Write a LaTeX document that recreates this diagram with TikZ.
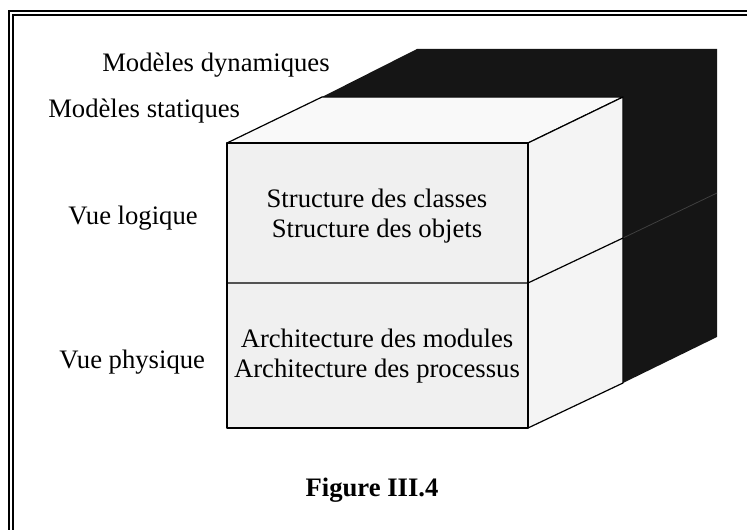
\documentclass[tikz,border=0pt]{standalone}
\usepackage{fontspec}
\setmainfont{Liberation Serif}

\definecolor{darkface}{HTML}{151515}
\tikzset{
  face/.style={draw=black, line width=0.9pt, line join=round},
  lbl/.style={inner sep=0pt, font=\fontsize{20}{23}\selectfont},
}

\begin{document}
\begin{tikzpicture}[x=0.75pt, y=-0.75pt]
            \useasboundingbox (0,0) rectangle (747,530);
            \clip (0,0) rectangle (747,530);
            \draw[double, line width=0.9pt, double distance=2pt] (11,13) rectangle (780,570);

            \fill[darkface] (322,97) -- (417,49) -- (717,49) -- (717,337) -- (623,383) -- (623,97) -- cycle;
            \draw[gray!40!darkface, line width=0.6pt] (623,238) -- (717,193);

            \filldraw[face, fill=gray!5] (227,143) -- (322,97) -- (623,97) -- (528,143) -- cycle;
            \filldraw[face, fill=gray!9] (528,143) -- (623,97) -- (623,383) -- (528,428) -- cycle;
            \filldraw[face, fill=gray!12] (227,143) rectangle (528,428);
            \draw[face] (227,283) -- (528,283) -- (623,238);

            \node[lbl, anchor=base west] (dyn) at (102,72) {Modèles dynamiques};
            \node[lbl, anchor=base west] (stat) at (48,118) {Modèles statiques};
            \node[lbl, anchor=base west] (logique) at (68,225) {Vue logique};
            \node[lbl, anchor=base west] (physique) at (59,369) {Vue physique};

            \node[lbl, align=center] (classes) at (377,216) {Structure des classes\\Structure des objets};
            \node[lbl, align=center] (modules) at (377,356) {Architecture des modules\\Architecture des processus};

            \node[lbl, font=\fontsize{20}{23}\selectfont\bfseries, anchor=base] (fig) at (372,497) {Figure III.4};
\end{tikzpicture}
\end{document}
